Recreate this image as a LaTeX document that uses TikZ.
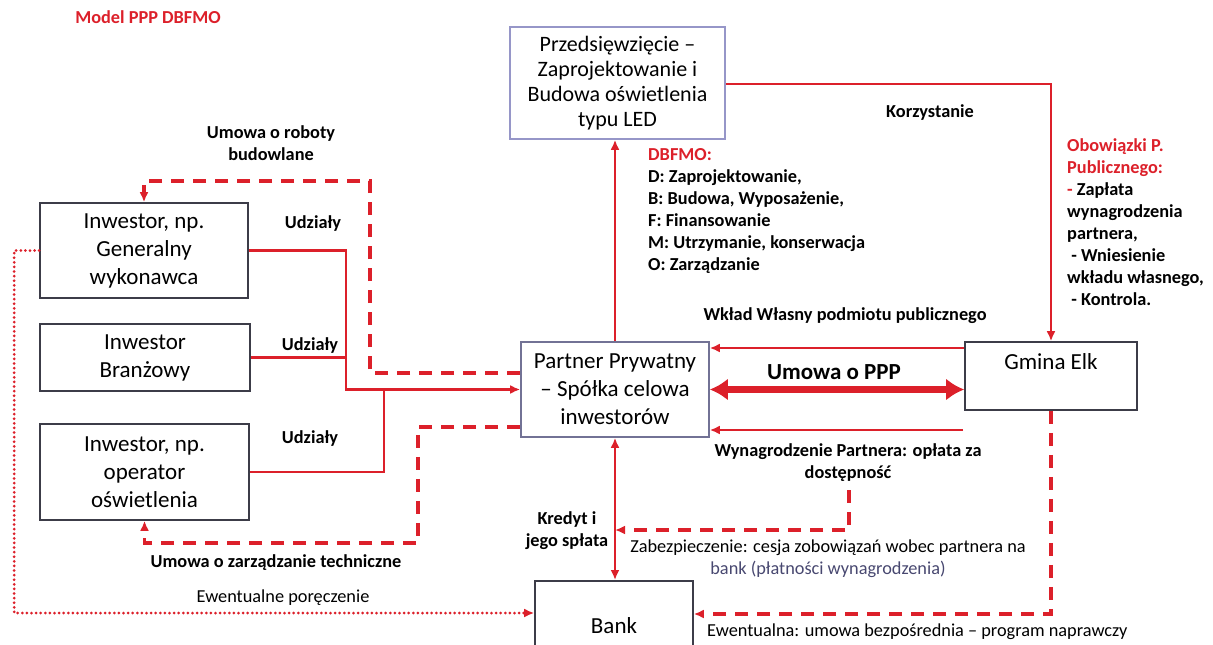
\documentclass[tikz,border=0pt]{standalone}
\usepackage{fontspec}
\setmainfont{Carlito}
\usetikzlibrary{arrows.meta,calc}
\definecolor{pppred}{RGB}{220,32,42}
\definecolor{boxgray}{RGB}{60,60,72}
\definecolor{boxlav}{RGB}{150,150,200}
\definecolor{slate}{RGB}{72,72,112}
\tikzset{
  box/.style={draw=boxgray,line width=1.6pt,align=center,font=\fontsize{23}{28}\selectfont,inner sep=2pt},
  lbl/.style={align=center,font=\bfseries\fontsize{18.3}{22}\selectfont,inner sep=0pt},
  plain/.style={align=center,font=\fontsize{18.3}{22}\selectfont,inner sep=0pt},
  redln/.style={draw=pppred,line width=2.8pt},
  reddash/.style={draw=pppred,line width=3.2pt,dash pattern=on 13pt off 9pt},
  reddot/.style={draw=pppred,line width=3pt,line cap=round,dash pattern=on 0pt off 4.6pt},
  tip/.style={-{Latex[length=10pt,width=9pt]}}
}
\begin{document}
\begin{tikzpicture}[x=1pt,y=1pt,yscale=-1]
\useasboundingbox (0,0) rectangle (1213,645);
% boxes
\node[box,draw=boxlav,minimum width=215,minimum height=112,font=\fontsize{22}{25}\selectfont] (proj) at (617.5,83) {Przedsięwzięcie –\\Zaprojektowanie i\\Budowa oświetlenia\\typu LED};
\node[box,minimum width=208,minimum height=95] (gw) at (144,250.5) {Inwestor, np.\\Generalny\\wykonawca};
\node[box,minimum width=210,minimum height=67] (bran) at (145,357.5) {Inwestor\\Branżowy};
\node[box,minimum width=209,minimum height=96] (oper) at (144.5,472) {Inwestor, np.\\operator\\oświetlenia};
\node[box,draw=boxlav!60!boxgray,minimum width=188,minimum height=95] (part) at (615,389.5) {Partner Prywatny\\– Spółka celowa\\inwestorów};
\node[box,minimum width=172,minimum height=68] (gmina) at (1051,376) {Gmina Elk\\\mbox{}};
\node[box,minimum width=158,minimum height=90,anchor=north] (bank) at (614,580) {Bank};
% texts
\node[lbl,text=pppred] (title) at (148,17) {Model PPP DBFMO};
\node[lbl] (roboty) at (271,143) {Umowa o roboty\\budowlane};
\node[lbl] (udz1) at (313,224) {Udziały};
\node[lbl] (udz2) at (310,346) {Udziały};
\node[lbl] (udz3) at (310,439) {Udziały};
\node[lbl] (zarz) at (276,563) {Umowa o zarządzanie techniczne};
\node[plain] (porecz) at (283,598) {Ewentualne poręczenie};
\node[lbl] (kredyt) at (567,531) {Kredyt i\\jego spłata};
\node[lbl,anchor=north west,align=left] (dbfmo) at (648,148) {\textcolor{pppred}{DBFMO:}\\D: Zaprojektowanie,\\B: Budowa, Wyposażenie,\\F: Finansowanie\\M: Utrzymanie, konserwacja\\O: Zarządzanie};
\node[lbl] (korzyst) at (930,113) {Korzystanie};
\node[lbl,anchor=north west,align=left] (obow) at (1067,138) {\textcolor{pppred}{Obowiązki P.}\\\textcolor{pppred}{Publicznego:}\\\textcolor{pppred}{-} Zapłata\\wynagrodzenia\\partnera,\\\ - Wniesienie\\wkładu własnego,\\\ - Kontrola.};
\node[lbl] (wklad) at (845,316) {Wkład Własny podmiotu publicznego};
\node[lbl,font=\bfseries\fontsize{23}{26}\selectfont] (ppp) at (834,372) {Umowa o PPP};
\node[lbl] (wynag) at (848,463) {Wynagrodzenie Partnera: opłata za\\dostępność};
\node[plain] (zabezp) at (828,559) {Zabezpieczenie: cesja zobowiązań wobec partnera na\\\textcolor{slate}{bank (płatności wynagrodzenia)}};
\node[plain,anchor=west] (ewent) at (707,632) {Ewentualna: umowa bezpośrednia – program naprawczy};
% connectors
\draw[redln,tip] (part.north) -- (part.north |- proj.south);
\draw[redln,tip] (proj.east |- 0,84) -| (gmina.north);
\draw[redln,tip] (gmina.north west |- 0,348) -- (part.east |- 0,348);
\draw[draw=pppred,line width=6.5pt,{Latex[length=18pt,width=22pt]}-{Latex[length=18pt,width=22pt]}] (part.east) -- (part.east -| gmina.west);
\coordinate (wynend) at (963,430);
\draw[redln,tip] (wynend) -- (part.east |- wynend);
\draw[redln,{Latex[length=10pt,width=9pt]}-{Latex[length=10pt,width=9pt]}] (part.south) -- (part.south |- bank.north);
\coordinate (zabtop) at (849,490);
\draw[reddash,tip] (zabtop) |- (part.south |- 0,530);
\draw[reddash,tip] (gmina.south) |- (bank.east |- 0,614);
\draw[reddot,tip] (gw.west) -- ++(-25,0) |- (bank.west |- 0,613);
\draw[redln,tip] (gw.east) -| (346,389.5) -- (part.west);
\draw[redln] (bran.east) -- (bran.east -| 346,0);
\draw[redln] (oper.east) -| (384,389.5);
\draw[reddash,tip] (part.west |- 0,373) -| (370,181) -| (gw.north);
\draw[reddash,tip] (part.west |- 0,427) -| (418,543) -| (oper.south);
\end{tikzpicture}
\end{document}
